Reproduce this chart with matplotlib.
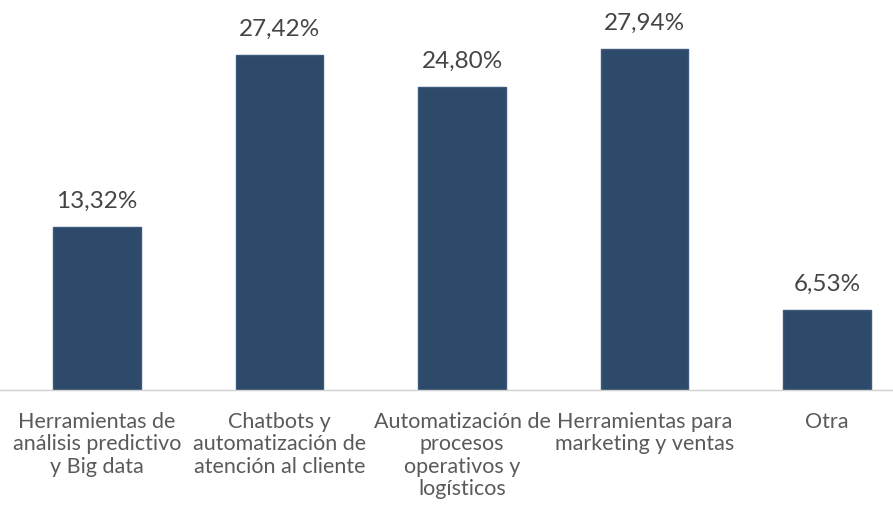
import matplotlib
matplotlib.use("Agg")
import matplotlib.pyplot as plt

categories = [
    "Herramientas de\nanálisis predictivo\ny Big data",
    "Chatbots y\nautomatización de\natención al cliente",
    "Automatización de\nprocesos\noperativos y\nlogísticos",
    "Herramientas para\nmarketing y ventas",
    "Otra",
]
values = [13.32, 27.42, 24.80, 27.94, 6.53]
labels = ["13,32%", "27,42%", "24,80%", "27,94%", "6,53%"]

plt.rcParams['font.family'] = ['Lato', 'DejaVu Sans']

fig = plt.figure(figsize=(8.93, 5.19), dpi=100)
ax = fig.add_axes([0.0, 0.2486, 1.0, 0.705])
x = list(range(len(values)))
ax.bar(x, values, width=0.48, color="#2E4A6B", edgecolor="#3d5a7c", linewidth=1)
ax.set_xlim(-0.5315, 4.3616)
ax.set_ylim(0, 29.95)
for xi, v, lab in zip(x, values, labels):
    ax.annotate(lab, (xi, v), xytext=(0, 11), textcoords="offset points",
                ha="center", va="bottom", fontsize=17.5, color="#454545")
ax.set_xticks(x)
ax.set_xticklabels(categories, fontsize=15.5, color="#5a5a5a", linespacing=1.14)
ax.tick_params(axis="x", length=0, pad=16)
ax.set_yticks([])
for s in ["top", "right", "left"]:
    ax.spines[s].set_visible(False)
ax.spines["bottom"].set_color("#d0d0d0")
ax.spines["bottom"].set_linewidth(1)
fig.savefig("out.png", dpi=100)
